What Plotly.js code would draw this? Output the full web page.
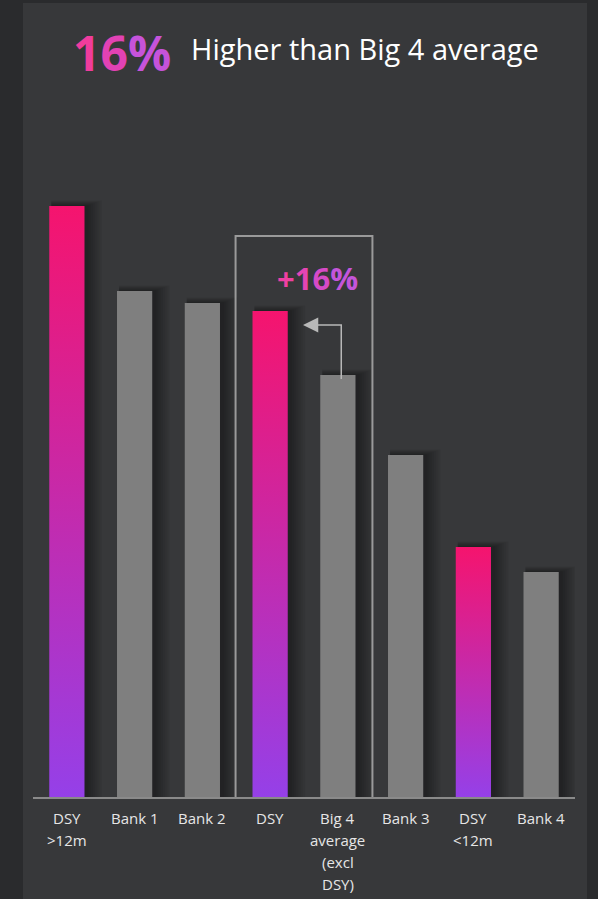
<!DOCTYPE html>
<html>
<head>
<meta charset="utf-8">
<script src="https://cdn.plot.ly/plotly-3.0.1.min.js"></script>
<style>
html,body{margin:0;padding:0;background:#2a2b2d;}
#chart{width:598px;height:899px;}
</style>
</head>
<body>
<div id="chart"></div>
<script>
// ---- data ----
const categories = ['DSY<br>&gt;12m', 'Bank 1', 'Bank 2', 'DSY', 'Big 4<br>average<br>(excl<br>DSY)', 'Bank 3', 'DSY<br>&lt;12m', 'Bank 4'];
const values = [5.91, 5.06, 4.94, 4.86, 4.22, 3.42, 2.50, 2.25];
const isDSY = [true, false, false, true, false, false, true, false];
const headlineValue = '16%';
const headlineText = 'Higher than Big 4 average';
const deltaLabel = '+16%';
const compareFrom = 4;  // Big 4 average index
const compareTo = 3;    // DSY index

// ---- geometry helpers (layout only) ----
const W = 598, H = 899;
const M = {l: 33, r: 23, t: 150, b: 102};
const plotW = W - M.l - M.r, plotH = H - M.t - M.b;
const xr = [-0.5, 7.5], yr = [0, 6.47];
const pxX = px => (px - M.l) / plotW;          // pixel -> paper x
const pxY = py => (H - M.b - py) / plotH;       // pixel -> paper y
const dX = px => xr[0] + (px - M.l) / plotW * (xr[1] - xr[0]); // pixel -> data x
const dY = py => (H - M.b - py) / plotH * (yr[1] - yr[0]);      // pixel -> data y
const xPx = (xr[1] - xr[0]) / plotW;  // data units per pixel (x)
const yPx = (yr[1] - yr[0]) / plotH;  // data units per pixel (y)

const barW = 0.52;
const idx = categories.map((_, i) => i);

const traces = [];
// soft shadows (layered)
for (let k = 1; k <= 7; k++) {
  traces.push({
    type: 'bar', x: idx, y: values.map(v => v + k * 0.8 * yPx),
    width: barW + k * 2.2 * xPx, offset: -barW / 2 + 2 * xPx,
    marker: {color: 'rgba(0,0,0,0.055)', line: {width: 0}},
    hoverinfo: 'skip', showlegend: false
  });
}
// grey bars
traces.push({
  type: 'bar',
  x: idx.filter(i => !isDSY[i]),
  y: values.filter((v, i) => !isDSY[i]),
  width: barW,
  marker: {color: '#7f7f7f', line: {width: 0}},
  showlegend: false
});
// gradient bars
idx.filter(i => isDSY[i]).forEach(i => {
  const v = values[i];
  traces.push({
    type: 'scatter', mode: 'lines',
    x: [i - barW / 2, i + barW / 2, i + barW / 2, i - barW / 2, i - barW / 2],
    y: [0, 0, v, v, 0],
    fill: 'toself', line: {width: 0, color: 'rgba(0,0,0,0)'},
    fillgradient: {type: 'vertical', colorscale: [[0, '#9540e8'], [1, '#f5146e']]},
    hoverinfo: 'skip', showlegend: false
  });
});

const shapes = [
  // panel
  {type: 'rect', xref: 'paper', yref: 'paper', x0: pxX(23), x1: pxX(587), y0: pxY(905), y1: pxY(3),
   fillcolor: '#37383a', line: {width: 0}, layer: 'below'},
  // highlight box
  {type: 'rect', xref: 'x', yref: 'y', x0: compareTo - 0.51, x1: compareFrom + 0.51, y0: dY(802), y1: dY(236),
   line: {color: '#9a9a9a', width: 2}, fillcolor: 'rgba(0,0,0,0)'},
  // connector
  {type: 'path', xref: 'x', yref: 'y',
   path: `M ${compareFrom + 0.05},${values[compareFrom] - 0.04} L ${compareFrom + 0.05},${dY(325)} L ${compareTo + 0.7},${dY(325)}`,
   line: {color: '#b8b8b8', width: 1.5}},
  // arrow head
  {type: 'path', xref: 'x', yref: 'y',
   path: `M ${compareTo + 0.485},${dY(325)} L ${compareTo + 0.71},${dY(317.5)} L ${compareTo + 0.71},${dY(332.5)} Z`,
   fillcolor: '#b8b8b8', line: {width: 0}}
];

function gradText(s, cols) {
  return s.split('').map((c, k) => `<span style="color:${cols[k]}">${c}</span>`).join('');
}

const annotations = [
  {xref: 'paper', yref: 'paper', x: pxX(122), y: pxY(52), xanchor: 'center', yanchor: 'middle',
   text: '<b>' + gradText(headlineValue, ['#f03c9c', '#e242b4', '#c653da']) + '</b>',
   showarrow: false, font: {family: 'Open Sans', size: 48}},
  {xref: 'paper', yref: 'paper', x: pxX(189), y: pxY(48), xanchor: 'left', yanchor: 'middle',
   text: headlineText, showarrow: false, font: {family: 'Open Sans', size: 29, color: '#ffffff'}},
  {xref: 'x', yref: 'y', x: dX(317), y: dY(278), xanchor: 'center', yanchor: 'middle',
   text: '<b>' + gradText(deltaLabel, ['#ee40a2', '#e445b4', '#d64ac6', '#c455da']) + '</b>',
   showarrow: false, font: {family: 'Open Sans', size: 31}}
];

// category labels: one annotation per line, 22px line spacing
categories.forEach((lab, i) => {
  lab.split('<br>').forEach((line, k) => {
    annotations.push({xref: 'x', yref: 'paper', x: i, y: pxY(818 + 22 * k), xanchor: 'center', yanchor: 'middle',
      text: line, showarrow: false, font: {family: 'Open Sans', size: 15, color: '#e6e6e6'}});
  });
});

const layout = {
  width: W, height: H,
  margin: M,
  paper_bgcolor: '#2a2b2d', plot_bgcolor: 'rgba(0,0,0,0)',
  barmode: 'overlay', showlegend: false,
  xaxis: {range: xr, tickvals: idx, showticklabels: false, showgrid: false, zeroline: false,
          showline: true, linecolor: '#8a8a8a', linewidth: 2, ticks: '', fixedrange: true},
  yaxis: {range: yr, showgrid: false, zeroline: false, showticklabels: false, showline: false, fixedrange: true},
  shapes: shapes, annotations: annotations
};

Plotly.newPlot('chart', traces, layout, {displayModeBar: false, staticPlot: true});
</script>
</body>
</html>
